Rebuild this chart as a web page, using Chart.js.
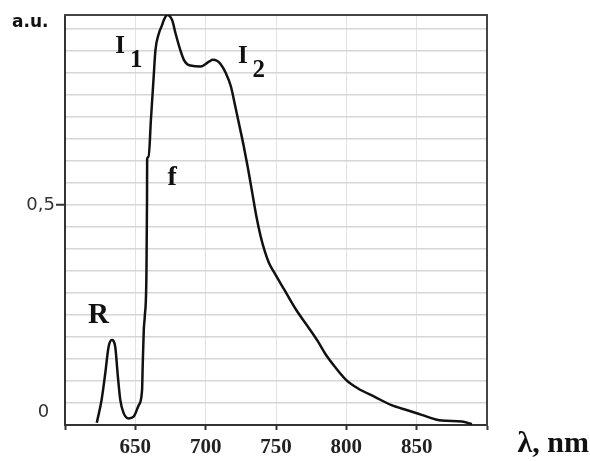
<!DOCTYPE html>
<html>
<head>
<meta charset="utf-8">
<script src="https://cdn.jsdelivr.net/npm/chart.js@4/dist/chart.umd.min.js"></script>
<style>
  html, body { margin: 0; padding: 0; background: #fff; }
  canvas { display: block; }
</style>
</head>
<body>
<canvas id="spectrum" width="590" height="461"></canvas>
<script>
// Spectre de fluorescence (unites arbitraires)
const wavelengths = [
  622.6, 626, 628.6, 631, 633.3, 635.7, 637.4, 639.3, 641.7, 645.2,
  648.8, 652.4, 654.8, 655.2, 656, 656.7, 657.9, 658.3, 658.4, 659.5,
  661, 663, 664.3, 666.7, 669, 670.2, 672.6, 676.2, 678.6, 682,
  684.5, 686.9, 689.3, 696.4, 702.4, 705, 708, 710.7, 714.3, 717.9,
  721, 724, 727, 730, 733, 736, 739, 742, 745, 749,
  756, 764.3, 772.6, 779.8, 785, 791.7, 800, 808.3, 820.2, 832.1,
  844, 853.6, 867.9, 882.1, 889.3
];
const intensity = [
  0.005, 0.057, 0.117, 0.178, 0.193, 0.178, 0.117, 0.057, 0.027, 0.015,
  0.019, 0.045, 0.08, 0.13, 0.216, 0.246, 0.345, 0.511, 0.605, 0.61,
  0.69, 0.79, 0.852, 0.89, 0.909, 0.92, 0.932, 0.92, 0.89, 0.852,
  0.83, 0.82, 0.817, 0.815, 0.826, 0.83, 0.828, 0.82, 0.80, 0.77,
  0.725, 0.68, 0.635, 0.585, 0.53, 0.475, 0.43, 0.395, 0.368, 0.345,
  0.307, 0.262, 0.224, 0.19, 0.162, 0.133, 0.102, 0.083, 0.064, 0.045,
  0.033, 0.023, 0.010, 0.008, 0.002
];
const xTickLabels = ["650", "700", "750", "800", "850"];
const yGridValues = [
  0, 0.05, 0.1, 0.15, 0.2, 0.25, 0.3, 0.35, 0.4, 0.45,
  0.5, 0.55, 0.6, 0.65, 0.7, 0.75, 0.8, 0.85, 0.9
];
const yTickLabels = { 0: "0 ", 0.5: "0,5" };

const SERIF = "'Liberation Serif', 'DejaVu Serif', serif";
const SANS = "'DejaVu Sans', Verdana, sans-serif";
const AXIS = "#333";

// Lettres annotees sur le graphique (position en unites des axes)
const peakMarks = [
  { text: "I", sub: "1", x: 635.7, y: 0.845, size: 25 },
  { text: "I", sub: "2", x: 722.9, y: 0.823, size: 25 },
  { text: "f", x: 672.9, y: 0.545, size: 28 },
  { text: "R", x: 616.4, y: 0.232, size: 29 },
];

const annotations = {
  id: "annotations",
  afterDraw(chart) {
    const { ctx, scales, chartArea } = chart;
    ctx.save();
    ctx.fillStyle = "#111";
    ctx.textBaseline = "alphabetic";
    ctx.textAlign = "left";

    peakMarks.forEach((m) => {
      const px = scales.x.getPixelForValue(m.x);
      const py = scales.y.getPixelForValue(m.y);
      ctx.font = `bold ${m.size}px ${SERIF}`;
      ctx.fillText(m.text, px, py);
      if (m.sub) {
        const w = ctx.measureText(m.text).width;
        ctx.fillText(m.sub, px + w + 5, py + 14);
      }
    });

    // titre des ordonnees
    ctx.font = `bold 17px ${SANS}`;
    ctx.fillText("a.u.", 12, chartArea.top + 12);

    // titre des abscisses
    ctx.textAlign = "right";
    ctx.font = `bold 30px ${SERIF}`;
    ctx.fillText("λ, nm", 589, chartArea.bottom + 27);
    ctx.restore();
  },
};

const canvas = document.getElementById("spectrum");
new Chart(canvas, {
  type: "line",
  data: {
    datasets: [
      {
        data: wavelengths.map((w, i) => ({ x: w, y: intensity[i] })),
        borderColor: "#111",
        borderWidth: 2.5,
        pointRadius: 0,
        fill: false,
        cubicInterpolationMode: "monotone",
      },
    ],
  },
  options: {
    responsive: false,
    animation: false,
    devicePixelRatio: 1,
    layout: { padding: { top: 15, right: 103, left: 0, bottom: 0 } },
    plugins: {
      legend: { display: false },
      tooltip: { enabled: false },
    },
    scales: {
      x: {
        type: "linear",
        min: 600,
        max: 900,
        ticks: {
          stepSize: 50,
          padding: 5,
          color: "#222",
          font: { family: SERIF, weight: "bold", size: 21 },
          callback: (v) => (xTickLabels.includes(String(v)) ? String(v) : ""),
        },
        grid: {
          color: "#e2e2e2",
          lineWidth: 1,
          tickLength: 5,
          tickColor: AXIS,
          tickWidth: 2,
        },
        border: { color: AXIS, width: 2 },
        afterFit(scale) {
          scale.height = 36;
        },
      },
      y: {
        type: "linear",
        min: 0,
        max: 0.932,
        afterBuildTicks(scale) {
          scale.ticks = yGridValues.map((v) => ({ value: v }));
        },
        ticks: {
          autoSkip: false,
          padding: 1,
          color: "#333",
          // "0" sits a bit above the axis in the original: two-line label lifts it
          font: (ctx) => ({
            family: SANS,
            size: 18,
            lineHeight: ctx.tick && ctx.tick.value === 0 ? 1.45 : 1.2,
          }),
          callback: (v) => {
            if (v === 0) return [yTickLabels[0], ""];
            return yTickLabels[v] || "";
          },
        },
        grid: {
          color: "#d6d6d6",
          lineWidth: 1.5,
          tickLength: 9,
          tickWidth: 2,
          tickColor: (ctx) =>
            ctx.tick && ctx.tick.value === 0.5 ? AXIS : "rgba(0,0,0,0)",
        },
        border: { color: AXIS, width: 2 },
        afterFit(scale) {
          scale.width = 65;
        },
      },
      xTop: {
        type: "linear",
        position: "top",
        min: 600,
        max: 900,
        ticks: { display: false },
        grid: { display: false, drawTicks: false },
        border: { color: "#444", width: 2 },
        afterFit(scale) {
          scale.height = 0;
        },
      },
      yRight: {
        type: "linear",
        position: "right",
        min: 0,
        max: 0.932,
        ticks: { display: false },
        grid: { display: false, drawTicks: false },
        border: { color: "#444", width: 2 },
        afterFit(scale) {
          scale.width = 0;
        },
      },
    },
  },
  plugins: [annotations],
});
</script>
</body>
</html>
